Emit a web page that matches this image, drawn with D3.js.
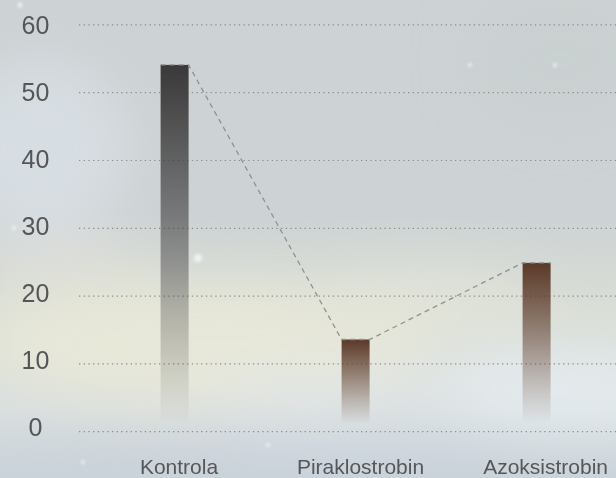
<!DOCTYPE html>
<html>
<head>
<meta charset="utf-8">
<script src="https://cdn.jsdelivr.net/npm/d3@7"></script>
<style>
  html, body { margin: 0; padding: 0; overflow: hidden; }
  svg { display: block; font-family: "Liberation Sans", Arial, Helvetica, sans-serif; }
</style>
</head>
<body>
<svg id="chart"></svg>
<script>
const categories = ["Kontrola", "Piraklostrobin", "Azoksistrobin"];
const values = [54.1, 13.6, 24.9];
const yTicks = [0, 10, 20, 30, 40, 50, 60];
const barColors = ["#3a3839", "#5b3929", "#5b3929"];

const width = 616, height = 478;
const svg = d3.select("#chart").attr("width", width).attr("height", height);
const defs = svg.append("defs");

/* background - soft sky */
const bg = defs.append("linearGradient").attr("id", "bg")
  .attr("x1", 0).attr("y1", 0).attr("x2", 0).attr("y2", 1);
[[0, "#cdd3d4"], [0.45, "#cdd3d4"], [0.65, "#dadeD6"], [0.85, "#d9dfe0"], [1, "#cbd3db"]]
  .forEach(s => bg.append("stop").attr("offset", s[0]).attr("stop-color", s[1]));

defs.append("filter").attr("id", "blur")
  .attr("x", "-50%").attr("y", "-50%").attr("width", "200%").attr("height", "200%")
  .append("feGaussianBlur").attr("stdDeviation", 28);
defs.append("filter").attr("id", "soft")
  .append("feGaussianBlur").attr("stdDeviation", 1.5);

svg.append("rect").attr("width", width).attr("height", height).attr("fill", "url(#bg)");

const clouds = [
  {cx: 40, cy: 150, rx: 90, ry: 90, c: "#d8dfe4", o: 0.9},
  {cx: 200, cy: 345, rx: 230, ry: 60, c: "#e9e9d8", o: 0.9},
  {cx: 420, cy: 305, rx: 120, ry: 35, c: "#e3e5d9", o: 0.8},
  {cx: 60, cy: 262, rx: 90, ry: 14, c: "#e6e4d8", o: 0.8},
  {cx: 560, cy: 390, rx: 130, ry: 40, c: "#e6ecef", o: 0.9},
  {cx: 330, cy: 398, rx: 120, ry: 25, c: "#dfe5e9", o: 0.7},
  {cx: 300, cy: 465, rx: 330, ry: 20, c: "#c9d1da", o: 0.8},
  {cx: 560, cy: 60, rx: 90, ry: 60, c: "#c8cecf", o: 0.6}
];
svg.append("g").attr("filter", "url(#blur)")
  .selectAll("ellipse").data(clouds).enter().append("ellipse")
  .attr("cx", d => d.cx).attr("cy", d => d.cy)
  .attr("rx", d => d.rx).attr("ry", d => d.ry)
  .attr("fill", d => d.c).attr("opacity", d => d.o);

// a few snow specks
const specks = [[20, 5, 2.5], [198, 258, 4], [470, 65, 2], [555, 65, 2], [268, 445, 2], [83, 462, 2], [14, 228, 2]];
svg.append("g").attr("filter", "url(#soft)")
  .selectAll("circle").data(specks).enter().append("circle")
  .attr("cx", d => d[0]).attr("cy", d => d[1]).attr("r", d => d[2])
  .attr("fill", "#f4f7f9").attr("opacity", 0.8);

/* scales */
const y = d3.scaleLinear().domain([0, 60]).range([431.7, 24.9]);
const x = d3.scalePoint().domain(categories).range([174.6, 536.6]);
const barW = 28;

/* grid */
svg.append("g").selectAll("line").data(yTicks).enter().append("line")
  .attr("x1", 79).attr("x2", width)
  .attr("y1", d => y(d)).attr("y2", d => y(d))
  .attr("stroke", "#8a8c8e").attr("stroke-width", 1.2)
  .attr("stroke-dasharray", "1.3 3.4");

svg.append("g").selectAll("text").data(yTicks).enter().append("text")
  .attr("x", 35.5).attr("y", d => y(d) - (60 - d) / 60 * 5)
  .attr("dy", "0.36em")
  .attr("text-anchor", "middle")
  .attr("font-size", 25).attr("fill", "#545658")
  .text(d => d);

/* bars */
categories.forEach((c, i) => {
  const g = defs.append("linearGradient").attr("id", "bar" + i)
    .attr("x1", 0).attr("y1", 0).attr("x2", 0).attr("y2", 1);
  g.append("stop").attr("offset", 0).attr("stop-color", barColors[i]).attr("stop-opacity", 1);
  g.append("stop").attr("offset", 0.55).attr("stop-color", barColors[i]).attr("stop-opacity", 0.45);
  g.append("stop").attr("offset", 1).attr("stop-color", barColors[i]).attr("stop-opacity", 0);
});

svg.append("g").selectAll("rect").data(categories).enter().append("rect")
  .attr("x", d => x(d) - barW / 2)
  .attr("y", (d, i) => y(values[i]))
  .attr("width", barW)
  .attr("height", (d, i) => y(0) - 8 - y(values[i]))
  .attr("fill", (d, i) => `url(#bar${i})`);

/* dashed line across bar tops */
const pts = [];
categories.forEach((c, i) => {
  pts.push([x(c) - barW / 2, y(values[i])]);
  pts.push([x(c) + barW / 2, y(values[i])]);
});
svg.append("path")
  .attr("d", d3.line()(pts))
  .attr("fill", "none")
  .attr("stroke", "#8f9192")
  .attr("stroke-width", 1.3)
  .attr("stroke-dasharray", "5 4");

/* category labels */
svg.append("g").selectAll("text").data(categories).enter().append("text")
  .attr("x", (d, i) => x(d) + [4.4, 4.9, 9][i])
  .attr("y", 474)
  .attr("text-anchor", "middle")
  .attr("font-size", 21).attr("fill", "#55575a")
  .text(d => d);
</script>
</body>
</html>
